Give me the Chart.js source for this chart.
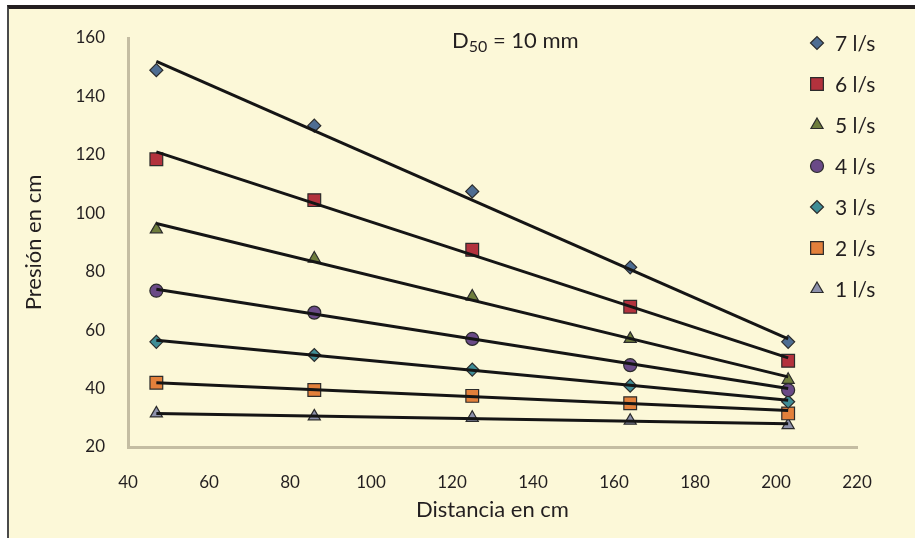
<!DOCTYPE html>
<html lang="es">
<head>
  <meta charset="UTF-8">
  <title>Presión vs distancia</title>
  <script src="https://cdn.jsdelivr.net/npm/chart.js"></script>
  <style>
    body { margin: 0; background: #fff; }
    #marco {
      position: absolute; left: 7px; top: 5px; width: 908px; height: 533px;
      border-top: 4px solid #231f20; border-left: 2px solid #4a4a4a;
      background: #fcf8d8; box-sizing: border-box;
    }
    #wrap { position: absolute; left: 0; top: 0; width: 915px; height: 538px; }
  </style>
</head>
<body>
  <div id="marco"></div>
  <div id="wrap"><canvas id="grafico" width="915" height="538"></canvas></div>

  <script>
    // distancias de medición (cm)
    const distancias = [47, 86, 125, 164, 203];
    const caudales = ['7 l/s', '6 l/s', '5 l/s', '4 l/s', '3 l/s', '2 l/s', '1 l/s'];

    // presiones medidas (cm) para cada caudal
    const q7 = [149, 130, 107.5, 81.5, 56];
    const q6 = [118.5, 104.5, 87.5, 68, 49.5];
    const q5 = [94.5, 84.5, 71.5, 57, 43];
    const q4 = [73.5, 66, 57, 48, 39.5];
    const q3 = [56, 51.5, 46.5, 41, 35.5];
    const q2 = [42, 39.5, 37.5, 35, 31.5];
    const q1 = [31.5, 30.5, 30, 29, 27.5];

    // líneas de tendencia: valor al inicio (x=47) y al final (x=203)
    const tendInicio = [152, 121, 96.5, 74, 56.5, 42, 31.5];
    const tendFin = [57, 50.5, 44, 40, 36, 32.5, 28];

    const xTicks = [40, 60, 80, 100, 120, 140, 160, 180, 200, 220];
    const yTicks = [20, 40, 60, 80, 100, 120, 140, 160];

    const series = [q7, q6, q5, q4, q3, q2, q1];
    const estilos = [
      { style: 'rectRot', color: '#4e6d92', r: 6.5 },
      { style: 'rect', color: '#b3323d', r: 9 },
      { style: 'triangle', color: '#6e7d3c', r: 7 },
      { style: 'circle', color: '#6a4a87', r: 6.5 },
      { style: 'rectRot', color: '#3f8d96', r: 6.5 },
      { style: 'rect', color: '#e3803b', r: 9 },
      { style: 'triangle', color: '#8d91ab', r: 7 }
    ];

    const datasets = [];
    series.forEach((vals, i) => {
      datasets.push({
        label: caudales[i],
        data: vals.map((v, k) => ({ x: distancias[k], y: v })),
        showLine: false,
        pointStyle: estilos[i].style,
        pointRadius: estilos[i].r,
        pointBackgroundColor: estilos[i].color,
        pointBorderColor: '#2b2b2b',
        pointBorderWidth: 1.2,
        order: 2
      });
    });
    series.forEach((vals, i) => {
      datasets.push({
        label: 'tend',
        data: [
          { x: distancias[0], y: tendInicio[i] },
          { x: distancias[distancias.length - 1], y: tendFin[i] }
        ],
        showLine: true,
        borderColor: '#151515',
        borderWidth: 3,
        pointRadius: 0,
        order: 1
      });
    });

    const texto = '#231f20';
    const fuente = 'Lato, "Open Sans", sans-serif';

    // leyenda y título dibujados dentro del área del gráfico
    const extras = {
      id: 'extras',
      afterDraw(chart) {
        const ctx = chart.ctx;
        ctx.save();
        // título D50 = 10 mm
        ctx.fillStyle = texto;
        ctx.textBaseline = 'alphabetic';
        ctx.textAlign = 'left';
        let x = 452, y = 48;
        ctx.font = '22px ' + fuente;
        ctx.fillText('D', x, y);
        x += ctx.measureText('D').width;
        ctx.font = '16px ' + fuente;
        ctx.fillText('50', x, y + 4);
        x += ctx.measureText('50').width;
        ctx.font = '22px ' + fuente;
        ctx.fillText(' = 10 mm', x, y);

        // leyenda
        caudales.forEach((lab, i) => {
          const ly = 43 + i * 41;
          const ds = chart.data.datasets[i];
          ctx.fillStyle = ds.pointBackgroundColor;
          ctx.strokeStyle = ds.pointBorderColor;
          ctx.lineWidth = ds.pointBorderWidth;
          Chart.helpers.drawPoint(ctx, {
            pointStyle: ds.pointStyle, radius: ds.pointRadius, borderWidth: ds.pointBorderWidth, rotation: 0
          }, 817, ly);
          ctx.fillStyle = texto;
          ctx.font = '21px ' + fuente;
          ctx.textBaseline = 'middle';
          ctx.fillText(lab, 835, ly + 1);
        });
        ctx.restore();
      }
    };

    new Chart(document.getElementById('grafico'), {
      type: 'scatter',
      data: { datasets },
      plugins: [extras],
      options: {
        responsive: false,
        animation: false,
        layout: { padding: { top: 38, right: 58, left: 0, bottom: 0 } },
        plugins: { legend: { display: false }, tooltip: { enabled: false } },
        scales: {
          x: {
            type: 'linear', min: 40, max: 220,
            afterBuildTicks: s => { s.ticks = xTicks.map(v => ({ value: v })); },
            afterFit: s => { s.height = 91; },
            grid: { display: false, drawTicks: false },
            border: { display: true, color: '#c4bda2', width: 3 },
            ticks: { color: texto, font: { family: fuente, size: 17 }, padding: 25 },
            title: { display: true, text: 'Distancia en cm', color: texto,
                     font: { family: fuente, size: 22 }, padding: { bottom: 15 } }
          },
          y: {
            type: 'linear', min: 20, max: 160,
            afterBuildTicks: s => { s.ticks = yTicks.map(v => ({ value: v })); },
            afterFit: s => { s.width = 128; },
            grid: { display: false, drawTicks: false },
            border: { display: true, color: '#c4bda2', width: 3 },
            ticks: { color: texto, font: { family: fuente, size: 17 }, padding: 23 },
            title: { display: true, text: 'Presión en cm', color: texto,
                     font: { family: fuente, size: 22 }, padding: { top: 21 } }
          }
        }
      }
    });
  </script>
</body>
</html>
